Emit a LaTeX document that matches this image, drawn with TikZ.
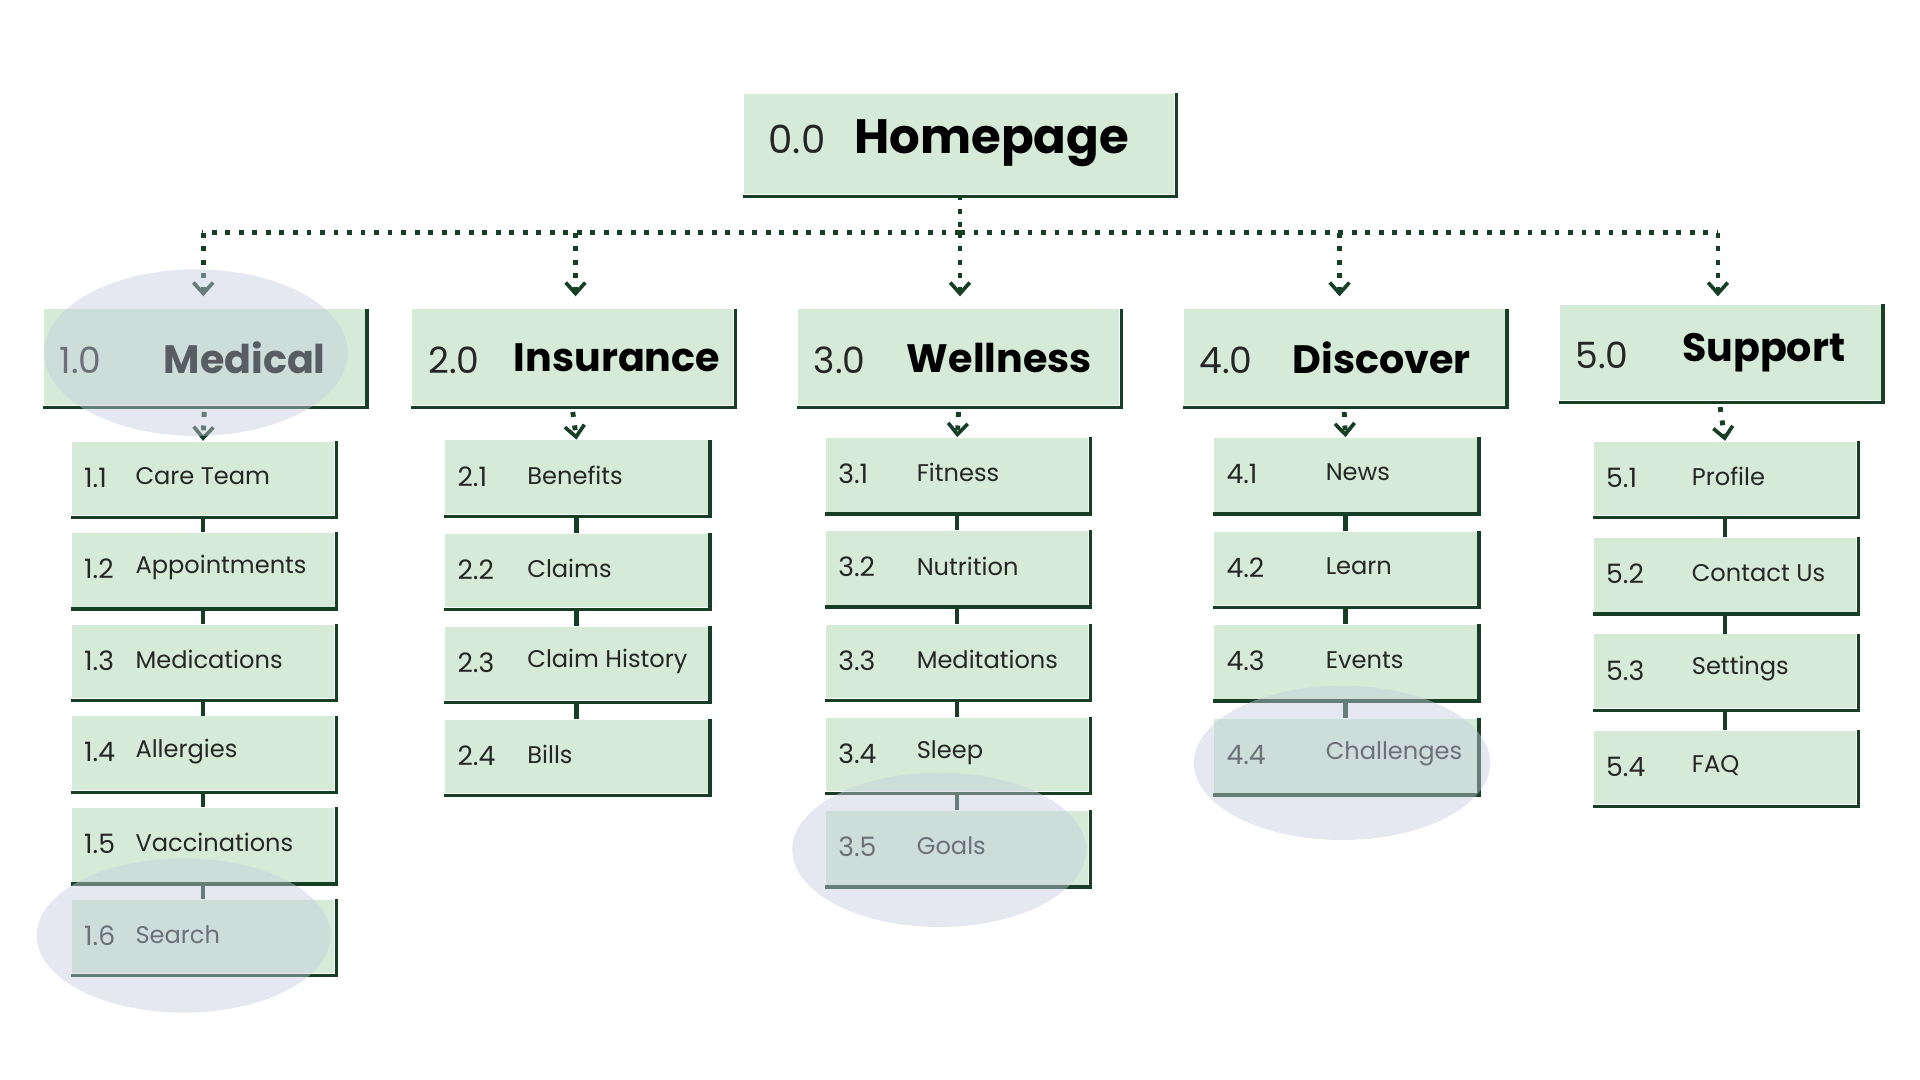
\documentclass[tikz,border=0pt]{standalone}
\usepackage{fontspec}
\setmainfont{Poppins}
\usetikzlibrary{arrows.meta}
\definecolor{boxgreen}{HTML}{D5EBD8}
\definecolor{darkgreen}{HTML}{173F26}
\definecolor{spot}{HTML}{C5CCDD}
\tikzset{
  box/.style={fill=boxgreen, anchor=north west, inner sep=0pt},
  edge/.style={darkgreen, line width=0.035cm},
  link/.style={darkgreen, line width=0.04cm, dotted},
  drop/.style={link, -{Straight Barb[length=0.09cm,width=0.16cm,line width=0.03cm]}},
  nr/.style={anchor=west, inner sep=0pt, font=\fontsize{6.2}{8}\selectfont, text=black!85},
  lbl/.style={anchor=west, inner sep=0pt, font=\fontsize{5.6}{7}\selectfont, text=black!85},
  spotlight/.style={fill=spot, fill opacity=0.45}
}
\newcommand{\shadowline}[1]{\draw[darkgreen, line width=0.028cm] ([xshift=0.012cm]#1.north east) -- ([xshift=0.012cm,yshift=-0.012cm]#1.south east) -- ([yshift=-0.012cm]#1.south west);}
\begin{document}
\begin{tikzpicture}[x=0.01cm, y=-0.01cm]
    \useasboundingbox (0,0) rectangle (1568,882);
    % Homepage
    \node[box, minimum width=3.51cm, minimum height=0.82cm] (home) at (607,76) {};
    \shadowline{home}
    \node[nr, font=\fontsize{9}{11}\selectfont] at (627,114) {0.0};
    \node[anchor=west, inner sep=0pt, font=\fontsize{11.2}{13}\selectfont\bfseries] at (697,117) {Homepage};
    % Rubriken
    \foreach \n/\x/\y/\num/\txt/\off in {med/35/252/1.0/Medical/98, ins/336/252/2.0/Insurance/83,
        wel/651/252/3.0/Wellness/89, dis/966/252/4.0/Discover/89, sup/1273/248/5.0/Support/100}{
      \node[box, minimum width=2.62cm, minimum height=0.78cm] (\n) at (\x,\y) {};
      \shadowline{\n}
      \node[nr, font=\fontsize{8.4}{10}\selectfont] at (\x+13,\y+42) {\num};
      \node[anchor=west, inner sep=0pt, font=\fontsize{9.2}{11}\selectfont\bfseries] at (\x+\off,\y+40) {\txt};
    }
    % Verbindungen zur Startseite
    \coordinate (bus) at (784,190);
    \draw[link] (home.south -| bus) -- (bus);
    \draw[link] (bus) -- (165,190) (bus) -- (1403,190);
    \foreach \c/\x in {med/166, ins/470, wel/784, dis/1094, sup/1403}
      \draw[drop] (\x,190) -- (\x,242);
    % Unterseiten
    \foreach \col/\x/\y/\st/\off/\items in {
        med/58/360/74.8/52/{1.1/Care Team,1.2/Appointments,1.3/Medications,1.4/Allergies,1.5/Vaccinations,1.6/Search},
        ins/363/359/76/67/{2.1/Benefits,2.2/Claims,2.3/Claim History,2.4/Bills},
        wel/674/357/76.2/74/{3.1/Fitness,3.2/Nutrition,3.3/Meditations,3.4/Sleep,3.5/Goals},
        dis/991/357/76.5/91/{4.1/News,4.2/Learn,4.3/Events,4.4/Challenges},
        sup/1301/360/78.7/80/{5.1/Profile,5.2/Contact Us,5.3/Settings,5.4/FAQ}}{
      \foreach \num/\txt [count=\i] in \items {
        \node[box, minimum width=2.14cm, minimum height=0.6cm] (\col\i) at (\x,\y+\st*\i-\st) {};
        \shadowline{\col\i}
        \node[nr] at (\x+10,\y+\st*\i-\st+30) {\num};
        \node[lbl] at (\x+\off,\y+\st*\i-\st+29) {\txt};
        \ifnum\i>1
          \pgfmathtruncatemacro{\prev}{\i-1}
          \draw[edge] ([yshift=-0.02cm]\col\prev.south) -- (\col\i.north);
        \fi
      }
      \draw[drop] ([yshift=-0.05cm]\col.south) -- (\col1.north);
    }
    % Markierungen
    \fill[spotlight] (160,288) ellipse [x radius=124, y radius=68];
    \fill[spotlight] (150,764) ellipse [x radius=120, y radius=63];
    \fill[spotlight] (767,694) ellipse [x radius=120, y radius=63];
    \fill[spotlight] (1096,623) ellipse [x radius=121, y radius=63];
\end{tikzpicture}
\end{document}
